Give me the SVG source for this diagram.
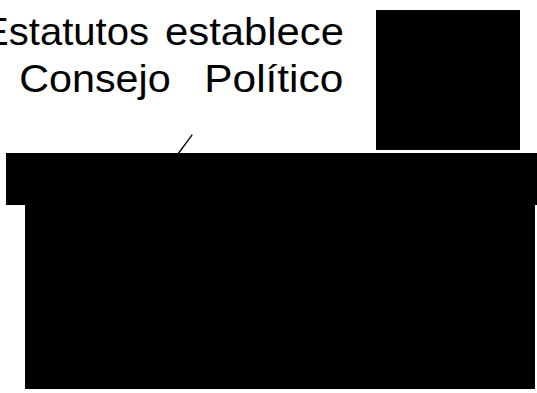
<svg xmlns="http://www.w3.org/2000/svg" width="537" height="393" viewBox="0 0 537 393">
<style>
.t{font-family:"Liberation Sans",Arial,sans-serif;font-size:39px;fill:#000}
.blk{fill:#000}
.ln{stroke:#000;stroke-width:1.3;fill:none}
</style>
<rect width="537" height="393" fill="#fff"/>
<g id="label">
<text class="t" x="-18" y="45" textLength="167" lengthAdjust="spacingAndGlyphs">Estatutos</text>
<text class="t" x="165" y="45" textLength="179" lengthAdjust="spacingAndGlyphs">establece</text>
<text class="t" x="19.2" y="91.5" textLength="151.5" lengthAdjust="spacingAndGlyphs">Consejo</text>
<text class="t" x="204.3" y="91.5" textLength="139" lengthAdjust="spacingAndGlyphs">Político</text>
</g>
<g id="box-top-right"><rect class="blk" x="376" y="10" width="144" height="140"/></g>
<g id="bar"><rect class="blk" x="6" y="153" width="531" height="52"/></g>
<g id="block"><rect class="blk" x="25" y="204" width="510" height="185"/></g>
<g id="connectors"><line class="ln" x1="192.3" y1="134.7" x2="178.3" y2="153.5"/></g>
</svg>
